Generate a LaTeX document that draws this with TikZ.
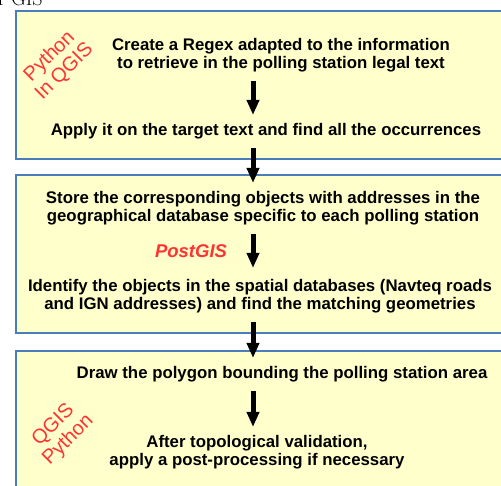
\documentclass[tikz,border=0pt]{standalone}
\usepackage{fontspec}
\newfontfamily\stagefont{Liberation Sans}
\usepackage{tikz}
\usetikzlibrary{arrows.meta,positioning}
\definecolor{boxfill}{RGB}{255,255,204}
\definecolor{boxline}{RGB}{74,126,187}
\definecolor{toolred}{RGB}{255,51,51}

\begin{document}
\begin{tikzpicture}[x=1pt, y=-1pt,
  stage/.style={draw=boxline, line width=2pt, fill=boxfill, minimum width=520pt, inner sep=0pt, anchor=north west},
  txt/.style={font=\stagefont\fontsize{16.8}{18}\selectfont\bfseries, align=center, inner sep=0pt},
  tool/.style={text=toolred, font=\stagefont\fontsize{20}{21}\selectfont, align=center, inner sep=0pt},
  flow/.style={-{Triangle[width=12pt,length=15pt]}, line width=5pt, shorten <=9pt, shorten >=8pt}]
  \useasboundingbox (0,0) rectangle (501,486);
  \clip (0,0) rectangle (501,486);
  % caption cut by the page top
  \node[anchor=base west, inner sep=0pt, font=\fontsize{20}{22}\selectfont] (cap) at (-2,6) {r GIS};
  % the three stages
  \node[stage, minimum height=148pt] (s1) at (15,10) {};
  \node[stage, minimum height=158pt] (s2) at (15,174) {};
  \node[stage, minimum height=200pt] (s3) at (15,350) {};
  \coordinate (axis) at (253,0);
  \node[txt] (t1) at (281,55) {Create a Regex adapted to the information\\to retrieve in the polling station legal text};
  \node[txt] (t2) at (266,131) {Apply it on the target text and find all the occurrences};
  \node[txt] (t3) at (263,208) {Store the corresponding objects with addresses in the\\geographical database specific to each polling station};
  \node[txt] (t4) at (260,296) {Identify the objects in the spatial databases (Navteq roads\\and IGN addresses) and find the matching geometries};
  \node[txt] (t5) at (282,374) {Draw the polygon bounding the polling station area};
  \node[txt] (t6) at (257,452) {After topological validation,\\apply a post-processing if necessary};
  % tools
  \node[tool, rotate=45] (py1) at (57,64) {Python\\In QGIS};
  \node[tool, font=\stagefont\fontsize{18.5}{20}\selectfont\bfseries\itshape] (pg) at (191,251) {PostGIS};
  \node[tool, rotate=45] (py2) at (61,433) {QGIS\\Python};
  % flow
  \draw[flow] (t1.south -| axis) -- (t2.north -| axis);
  \draw[flow] (t2.south -| axis) -- (t3.north -| axis);
  \draw[flow, shorten >=11pt] (t3.south -| axis) -- (t4.north -| axis);
  \draw[flow] (t4.south -| axis) -- (t5.north -| axis);
  \draw[flow] (t5.south -| axis) -- (t6.north -| axis);
\end{tikzpicture}
\end{document}
